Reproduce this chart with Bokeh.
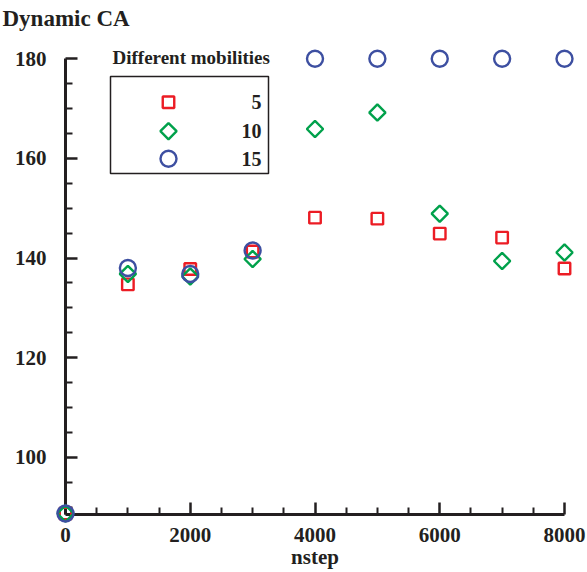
import numpy as np
from bokeh.plotting import figure
from bokeh.models import (Range1d, LinearAxis, FixedTicker, Label,
                          BoxAnnotation)
from bokeh.embed import file_html
from bokeh.resources import INLINE

# ---- data -------------------------------------------------------------
nstep = [0, 1000, 2000, 3000, 4000, 5000, 6000, 7000, 8000]
ca_mobility_5 = [88.7, 134.7, 137.8, 141.3, 148.1, 147.9, 144.9, 144.1, 137.9]
ca_mobility_10 = [88.7, 136.8, 136.3, 139.8, 165.9, 169.2, 148.9, 139.4, 141.1]
ca_mobility_15 = [88.7, 138.0, 136.8, 141.5, 180.0, 180.0, 180.0, 180.0, 180.0]
mobility_labels = ["5", "10", "15"]

x_major_ticks = [0, 2000, 4000, 6000, 8000]
x_minor_ticks = [500, 1000, 1500, 2500, 3000, 3500, 4500, 5000, 5500,
                 6500, 7000, 7500]
y_major_ticks = [100, 120, 140, 160, 180]
y_minor_ticks = [90, 95, 105, 110, 115, 125, 130, 135, 145, 150, 155,
                 165, 170, 175]
x_bounds = (0, 8000)
y_bounds = (88.5, 180)

# ---- styling ------------------------------------------------------------
RED = "#ec1c24"
GREEN = "#00a14b"
BLUE = "#3d4fa1"
INK = "#231f20"
FONT = "Liberation Serif"

W, H = 587, 572
# pixel <-> data helpers for placing the frame and annotations
X0_PX, X_PX_PER_UNIT = 65.0, 499.0 / 8000.0
Y180_PX, Y_PX_PER_UNIT = 58.3, 4.98


def dx(px):
    return (px - X0_PX) / X_PX_PER_UNIT


def dy(py):
    return 180.0 - (py - Y180_PX) / Y_PX_PER_UNIT


p = figure(width=W, height=H,
           x_range=Range1d(dx(0), dx(W)), y_range=Range1d(dy(H), dy(0)),
           output_backend="svg", toolbar_location=None,
           x_axis_location=None, y_axis_location=None,
           min_border=0, min_border_left=0, min_border_right=0,
           min_border_top=0, min_border_bottom=0,
           outline_line_color=None, background_fill_color="white",
           border_fill_color="white")
p.grid.visible = False


def style_axis(ax):
    ax.axis_line_color = INK
    ax.axis_line_width = 3
    ax.major_tick_line_color = INK
    ax.major_tick_line_width = 2.5
    ax.minor_tick_line_color = INK
    ax.minor_tick_line_width = 2
    ax.major_tick_in = 12
    ax.major_tick_out = 0
    ax.minor_tick_in = 7
    ax.minor_tick_out = 0
    ax.major_label_text_font = FONT
    ax.major_label_text_font_style = "bold"
    ax.major_label_text_font_size = "21px"
    ax.major_label_text_color = INK


yaxis = LinearAxis(fixed_location=0, bounds=y_bounds,
                   ticker=FixedTicker(ticks=y_major_ticks,
                                      minor_ticks=y_minor_ticks))
style_axis(yaxis)
yaxis.major_label_standoff = 19
p.add_layout(yaxis, "left")

xaxis = LinearAxis(fixed_location=y_bounds[0], bounds=x_bounds,
                   ticker=FixedTicker(ticks=x_major_ticks,
                                      minor_ticks=x_minor_ticks))
style_axis(xaxis)
xaxis.major_label_standoff = 14
p.add_layout(xaxis, "below")

# ---- markers --------------------------------------------------------------
marker_styles = [
    dict(marker="square", angle=0.0, size=11.5, line_color=RED),
    dict(marker="square", angle=np.pi / 4, size=11.5, line_color=GREEN),
    dict(marker="circle", angle=0.0, size=16, line_color=BLUE),
]
series = [ca_mobility_5, ca_mobility_10, ca_mobility_15]

for values, style in zip(series, marker_styles):
    p.scatter(nstep, values, fill_color=None, line_width=2.4,
              level="overlay", **style)

# ---- legend (boxed, title above the box) ----------------------------------
p.add_layout(BoxAnnotation(left=dx(110), right=dx(268), top=dy(76),
                           bottom=dy(173), fill_alpha=0, line_color=INK,
                           line_alpha=1.0, line_width=1.5))

legend_rows_px = [101.7, 130.7, 158.3]
for row_px, label, style in zip(legend_rows_px, mobility_labels, marker_styles):
    p.scatter([dx(168)], [dy(row_px)], fill_color=None, line_width=2.4,
              level="overlay", **style)
    p.add_layout(Label(x=dx(261), y=dy(row_px), text=label,
                       text_font=FONT, text_font_style="bold",
                       text_font_size="20px", text_color=INK,
                       text_align="right", text_baseline="middle"))

p.add_layout(Label(x=dx(112), y=dy(57), text="Different mobilities",
                   text_font=FONT, text_font_style="bold",
                   text_font_size="19px", text_color=INK,
                   text_baseline="middle"))

# ---- titles -------------------------------------------------------------
p.add_layout(Label(x=dx(2), y=dy(17.5), text="Dynamic CA",
                   text_font=FONT, text_font_style="bold",
                   text_font_size="23px", text_color=INK,
                   text_baseline="middle"))
p.add_layout(Label(x=4000, y=dy(556), text="nstep",
                   text_font=FONT, text_font_style="bold",
                   text_font_size="21px", text_color=INK,
                   text_align="center", text_baseline="middle"))

open("out.html", "w").write(file_html(p, INLINE))
